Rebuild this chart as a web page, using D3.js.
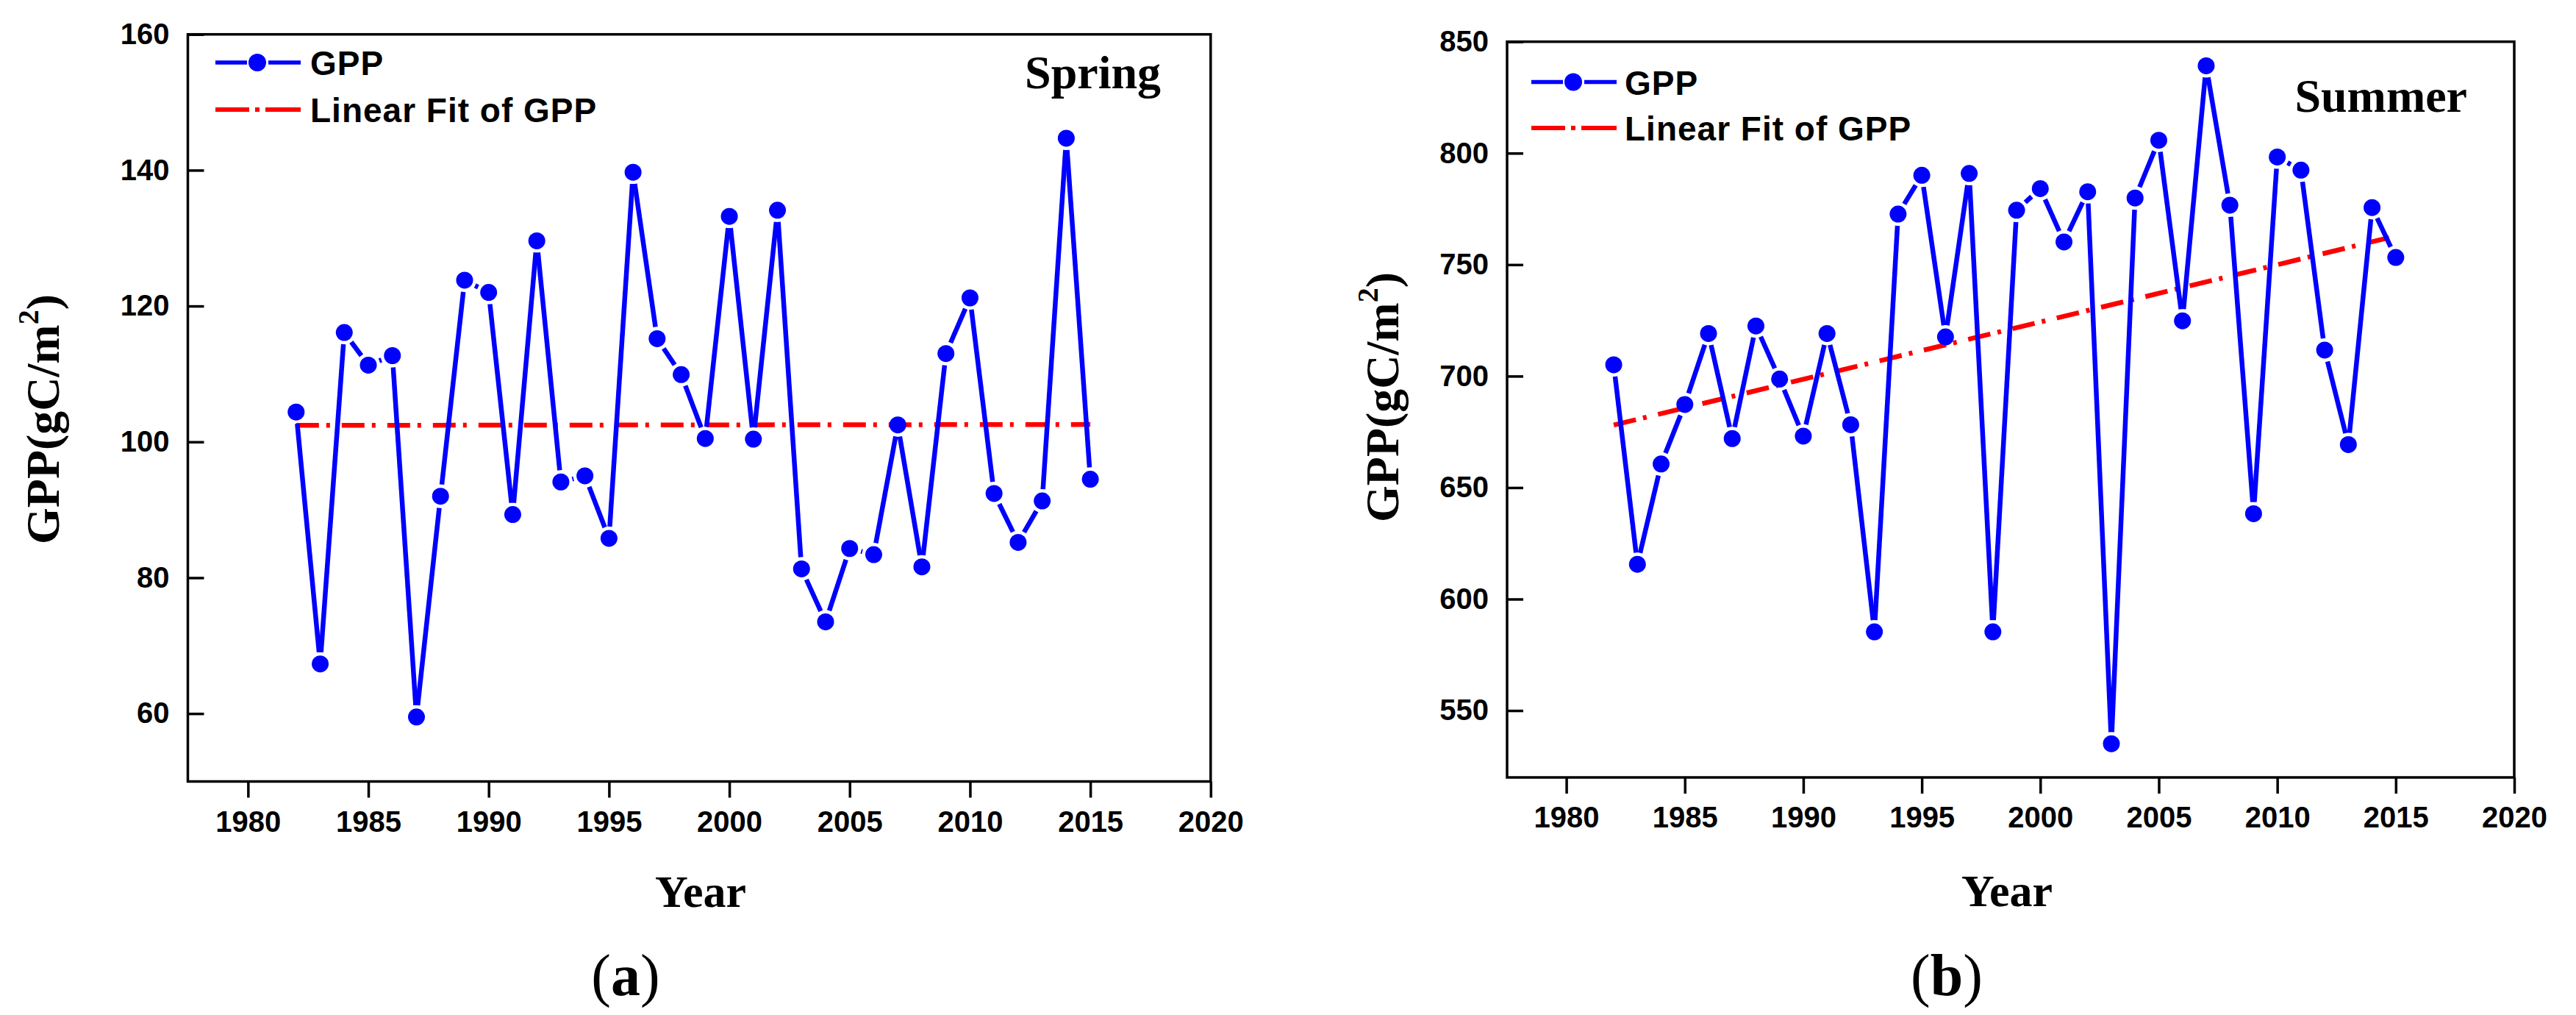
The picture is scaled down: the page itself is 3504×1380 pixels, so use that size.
<!DOCTYPE html>
<html>
<head>
<meta charset="utf-8">
<script src="https://cdn.jsdelivr.net/npm/d3@7"></script>
<style>
  body { margin: 0; background: #fff; }
  .tick text { font-family: "Liberation Sans", Arial, sans-serif; font-weight: bold; font-size: 40px; fill: #000; }
  .tick line { stroke: #000; stroke-width: 3.5; }
</style>
</head>
<body>
<div id="theGraph"></div>
<script>
// values
const years = [1982, 1983, 1984, 1985, 1986, 1987, 1988, 1989, 1990, 1991, 1992, 1993, 1994, 1995, 1996, 1997, 1998,
               1999, 2000, 2001, 2002, 2003, 2004, 2005, 2006, 2007, 2008, 2009, 2010, 2011, 2012, 2013, 2014, 2015];
const springGPP = [104.4, 67.3, 116.1, 111.3, 112.7, 59.5, 92.0, 123.8, 122.0, 89.3, 129.6, 94.1, 95.0, 85.8, 139.7, 115.2, 109.9,
                   100.5, 133.2, 100.4, 134.1, 81.3, 73.5, 84.3, 83.4, 102.5, 81.6, 113.0, 121.2, 92.4, 85.2, 91.3, 144.7, 94.5];
const summerGPP = [705.1, 615.6, 660.6, 687.3, 719.1, 672.0, 722.5, 698.7, 673.1, 719.1, 678.2, 585.3, 772.7, 790.1, 717.6, 790.9, 585.3,
                   774.4, 784.1, 760.2, 782.7, 535.1, 779.9, 805.8, 724.8, 839.2, 776.7, 638.3, 798.3, 792.4, 711.7, 669.3, 775.6, 753.2];
const yearTicks = [1980, 1985, 1990, 1995, 2000, 2005, 2010, 2015, 2020];
const springTicks = [60, 80, 100, 120, 140, 160];
const summerTicks = [550, 600, 650, 700, 750, 800, 850];
const seasonNames = ["Spring", "Summer"];
const panelTags = ["a", "b"];
const legendLabels = ["GPP", "Linear Fit of GPP"];

const width = 3504, height = 1380;
const sans = '"Liberation Sans", Arial, sans-serif', serif = '"Liberation Serif", "Times New Roman", serif';
const blue = "#0000ff", red = "#ff0000";

const svg = d3.select("#theGraph").append("svg").attr("width", width).attr("height", height);
svg.append("rect").attr("width", width).attr("height", height).attr("fill", "#fff");

const panels = [
    {values: springGPP, ticks: springTicks, yDomain: [50, 160], season: seasonNames[0], tag: panelTags[0],
     box: {left: 255.5, right: 1646.8, top: 46.7, bottom: 1062.5},
     legend: {x: 293, y: 85, dy: 64, textX: 422}, seasonPos: [1579, 120],
     yLabel: [80, 570], yearPos: [953, 1233], tagPos: [851, 1353]},
    {values: summerGPP, ticks: summerTicks, yDomain: [520, 850], season: seasonNames[1], tag: panelTags[1],
     box: {left: 2050, right: 3420, top: 56.7, bottom: 1057},
     legend: {x: 2083, y: 111.6, dy: 62.5, textX: 2210}, seasonPos: [3356, 152],
     yLabel: [1902, 540], yearPos: [2730, 1232], tagPos: [2648, 1353]}
];

panels.forEach(draw);

function draw(p) {
    const b = p.box;
    const xScale = d3.scaleLinear().domain([1977.5, 2020]).range([b.left, b.right]);
    const yScale = d3.scaleLinear().domain(p.yDomain).range([b.bottom, b.top]);
    const g = svg.append("g");

    // axes
    const yAxis = g.append("g").attr("transform", `translate(${b.left},0)`)
        .call(d3.axisLeft(yScale).tickValues(p.ticks).tickSize(-22).tickSizeOuter(0).tickPadding(25));
    const xAxis = g.append("g").attr("transform", `translate(0,${b.bottom})`)
        .call(d3.axisBottom(xScale).tickValues(yearTicks).tickFormat(d3.format("d")).tickSize(22).tickSizeOuter(0).tickPadding(18));
    yAxis.select(".domain").remove();
    xAxis.select(".domain").remove();
    g.append("rect").attr("x", b.left).attr("y", b.top)
        .attr("width", b.right - b.left).attr("height", b.bottom - b.top)
        .attr("fill", "none").attr("stroke", "#000").attr("stroke-width", 3.5);

    // linear fit (least squares)
    const mx = d3.mean(years), my = d3.mean(p.values);
    const slope = d3.sum(years, (yr, i) => (yr - mx) * (p.values[i] - my)) / d3.sum(years, yr => (yr - mx) ** 2);
    const fitEnds = [years[0], years[years.length - 1]];
    g.append("path")
        .attr("d", d3.line().x(d => xScale(d)).y(d => yScale(my + slope * (d - mx)))(fitEnds))
        .attr("fill", "none").attr("stroke", red).attr("stroke-width", 6.5)
        .attr("stroke-dasharray", "31,10,5,16");

    // GPP line with gaps around the symbols
    const pts = years.map((yr, i) => [xScale(yr), yScale(p.values[i])]);
    const gap = 16;
    const segs = d3.pairs(pts).filter(([a, c]) => Math.hypot(c[0] - a[0], c[1] - a[1]) > 2 * gap).map(([a, c]) => {
        const len = Math.hypot(c[0] - a[0], c[1] - a[1]);
        const ux = (c[0] - a[0]) / len, uy = (c[1] - a[1]) / len;
        return [a[0] + ux * gap, a[1] + uy * gap, c[0] - ux * gap, c[1] - uy * gap];
    });
    g.selectAll(".seg").data(segs).enter().append("line").attr("class", "seg")
        .attr("x1", d => d[0]).attr("y1", d => d[1]).attr("x2", d => d[2]).attr("y2", d => d[3])
        .attr("stroke", blue).attr("stroke-width", 6.5);
    g.selectAll(".pt").data(pts).enter().append("circle").attr("class", "pt")
        .attr("cx", d => d[0]).attr("cy", d => d[1]).attr("r", 11.5).attr("fill", blue);

    // legend
    const L = p.legend;
    const lg = g.append("g");
    lg.append("line").attr("x1", L.x).attr("x2", L.x + 43).attr("y1", L.y).attr("y2", L.y)
        .attr("stroke", blue).attr("stroke-width", 5.5);
    lg.append("line").attr("x1", L.x + 72).attr("x2", L.x + 116).attr("y1", L.y).attr("y2", L.y)
        .attr("stroke", blue).attr("stroke-width", 5.5);
    lg.append("circle").attr("cx", L.x + 57).attr("cy", L.y).attr("r", 12).attr("fill", blue);
    lg.append("line").attr("x1", L.x).attr("x2", L.x + 116).attr("y1", L.y + L.dy).attr("y2", L.y + L.dy)
        .attr("stroke", red).attr("stroke-width", 6).attr("stroke-dasharray", "46,8,6,8,48");
    lg.selectAll("text").data(legendLabels).enter().append("text")
        .attr("x", L.textX).attr("y", (d, i) => L.y + i * L.dy + 17)
        .attr("font-family", sans).attr("font-weight", "bold").attr("font-size", 46)
        .attr("letter-spacing", 1).text(d => d);

    // season label
    g.append("text").attr("x", p.seasonPos[0]).attr("y", p.seasonPos[1]).attr("text-anchor", "end")
        .attr("font-family", serif).attr("font-weight", "bold").attr("font-size", 64).text(p.season);

    // axis titles
    const yl = g.append("text").attr("transform", `translate(${p.yLabel[0]},${p.yLabel[1]}) rotate(-90)`)
        .attr("text-anchor", "middle").attr("font-family", serif).attr("font-weight", "bold").attr("font-size", 64);
    yl.append("tspan").text("GPP(gC/m");
    yl.append("tspan").attr("font-size", 40).attr("dy", -28).text("2");
    yl.append("tspan").attr("dy", 28).text(")");

    g.append("text").attr("x", p.yearPos[0]).attr("y", p.yearPos[1]).attr("text-anchor", "middle")
        .attr("font-family", serif).attr("font-weight", "bold").attr("font-size", 62).text("Year");

    const tg = g.append("text").attr("x", p.tagPos[0]).attr("y", p.tagPos[1]).attr("text-anchor", "middle")
        .attr("font-family", serif).attr("font-size", 80);
    tg.append("tspan").text("(");
    tg.append("tspan").attr("font-weight", "bold").text(p.tag);
    tg.append("tspan").text(")");
}
</script>
</body>
</html>
